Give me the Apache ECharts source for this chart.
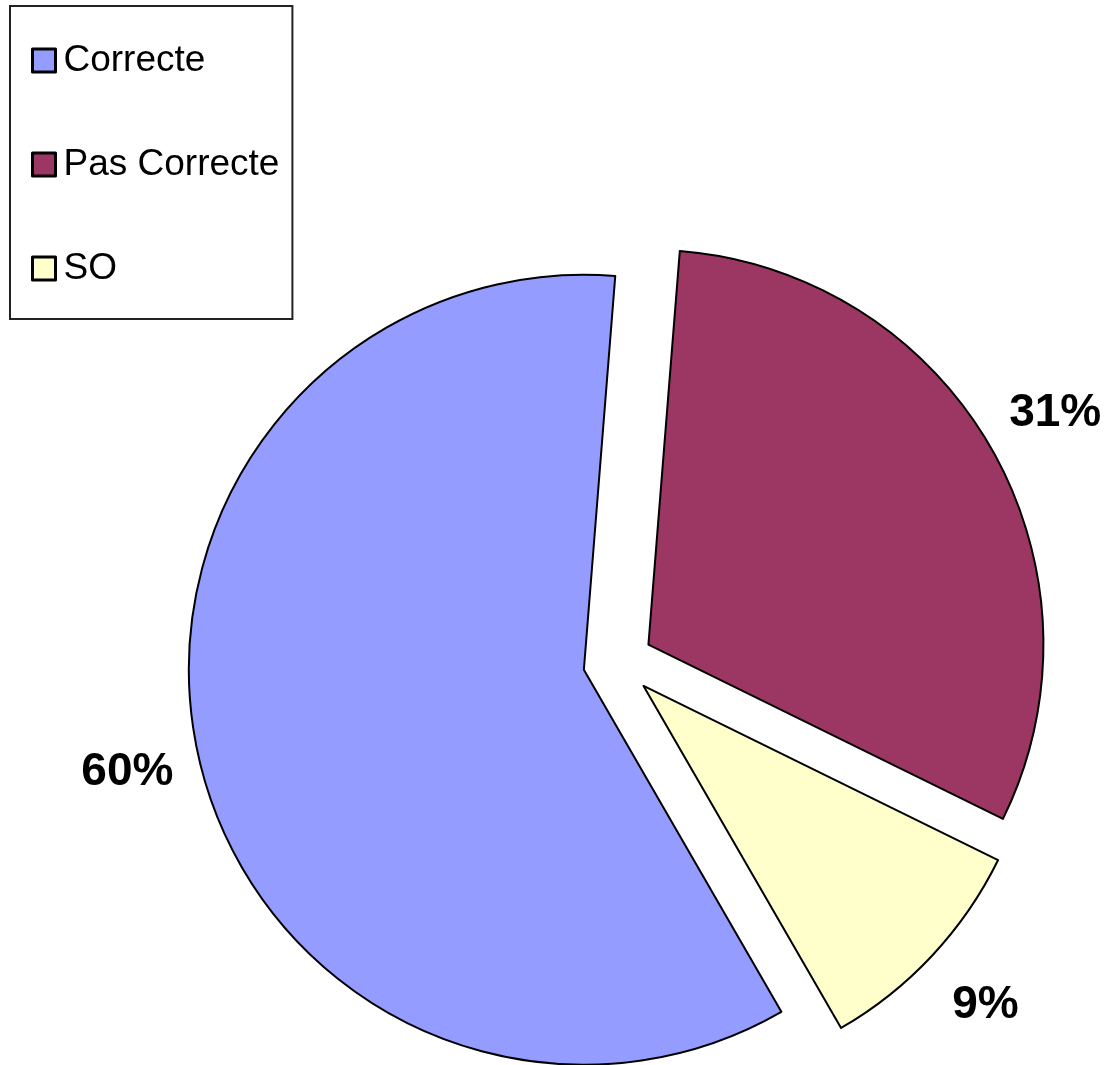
<!DOCTYPE html>
<html>
<head>
<meta charset="utf-8">
<script src="https://cdn.jsdelivr.net/npm/echarts@6/dist/echarts.min.js"></script>
<style>
html,body{margin:0;padding:0;background:#fff;}
#chart{width:1112px;height:1065px;}
</style>
</head>
<body>
<div id="chart"></div>
<script>
const categories = ['Correcte', 'Pas Correcte', 'SO'];
const values = [59.6, 31.0, 9.4];
const labels = ['60%', '31%', '9%'];
const colors = ['#959cff', '#9c3763', '#ffffcc'];

const chart = echarts.init(document.getElementById('chart'), null, {renderer: 'canvas'});

const pieData = categories.map((c, i) => ({
  name: c, value: values[i], selected: true,
  itemStyle: {color: colors[i]}
}));
const ringData = categories.map((c, i) => ({
  name: c, value: values[i], selected: true,
  label: {formatter: labels[i]}
}));

const CENTER = [618, 662];
const R = 395;
const OFFSET = 35;
const START = 300;

chart.setOption({
  animation: false,
  backgroundColor: '#ffffff',
  legend: {
    orient: 'vertical',
    left: 10,
    top: 6,
    padding: [36, 13, 32, 21],
    itemGap: 67,
    itemWidth: 23,
    itemHeight: 23,
    icon: 'rect',
    borderColor: '#222',
    borderWidth: 2,
    selectedMode: false,
    data: categories,
    itemStyle: {borderColor: '#000', borderWidth: 3},
    textStyle: {
      fontFamily: 'Arial, "Liberation Sans", sans-serif',
      fontSize: 37,
      lineHeight: 36,
      color: '#000',
      padding: [0, 0, 0, 3]
    }
  },
  series: [
    {
      type: 'pie',
      center: CENTER,
      radius: R,
      startAngle: START,
      clockwise: true,
      selectedMode: 'multiple',
      selectedOffset: OFFSET,
      avoidLabelOverlap: false,
      label: {show: false},
      labelLine: {show: false},
      emphasis: {disabled: true},
      itemStyle: {borderColor: '#000', borderWidth: 2},
      data: pieData
    },
    {
      type: 'pie',
      center: CENTER,
      radius: [R, R + 140],
      startAngle: START,
      clockwise: true,
      selectedMode: 'multiple',
      selectedOffset: OFFSET,
      avoidLabelOverlap: false,
      silent: true,
      emphasis: {disabled: true},
      itemStyle: {color: 'rgba(0,0,0,0)', borderWidth: 0},
      label: {
        show: true,
        position: 'inside',
        color: '#000',
        fontFamily: 'Arial, "Liberation Sans", sans-serif',
        fontWeight: 'bold',
        fontSize: 46
      },
      labelLine: {show: false},
      data: ringData
    }
  ]
});
</script>
</body>
</html>
